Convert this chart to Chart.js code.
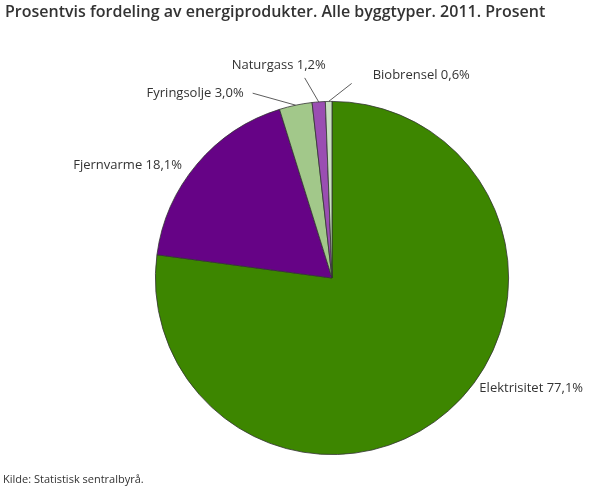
<!DOCTYPE html>
<html>
<head>
<meta charset="utf-8">
<script src="https://cdn.jsdelivr.net/npm/chart.js@4"></script>
<style>
  html, body { margin: 0; padding: 0; background: #fff; }
  #wrap { position: relative; width: 610px; height: 488px; }
  #title { position: absolute; left: 5px; top: 0px; font: 600 16px "Open Sans", sans-serif; color: #333; white-space: nowrap; line-height: 22px; }
  #source { position: absolute; left: 3px; top: 471px; font: 11px "Open Sans", sans-serif; color: #333; white-space: nowrap; line-height: 16px; }
</style>
</head>
<body>
<div id="wrap">
  <canvas id="pie" width="610" height="488"></canvas>
  <div id="title">Prosentvis fordeling av energiprodukter. Alle byggtyper. 2011. Prosent</div>
  <div id="source">Kilde: Statistisk sentralbyrå.</div>
</div>
<script>
const categories = ['Elektrisitet', 'Fjernvarme', 'Fyringsolje', 'Naturgass', 'Biobrensel'];
const shares = [77.1, 18.1, 3.0, 1.2, 0.6];
const colors = ['#3d8600', '#660386', '#a2c88a', '#9a4eb2', '#c9e0c0'];

// label placement relative to the slice's outer mid point
const labelOffsets = [
  {tx: 31, ty: -23, align: 'left'},
  {tx: -15, ty: 1, align: 'right'},
  {lx: -43, ly: -12, tx: -52, ty: -12, align: 'right'},
  {lx: -14, ly: -24, tx: -40, ty: -37, align: 'center'},
  {lx: 23, ly: -18, tx: 44, ty: -26, align: 'left'}
];

const fmt = v => v.toFixed(1).replace('.', ',') + '%';

const pieLabels = {
  id: 'pieLabels',
  afterDatasetsDraw(chart) {
    const ctx = chart.ctx;
    const meta = chart.getDatasetMeta(0);
    ctx.save();
    ctx.font = '13px "Open Sans", sans-serif';
    ctx.fillStyle = '#333';
    ctx.strokeStyle = '#333';
    ctx.lineWidth = 0.8;
    ctx.textBaseline = 'middle';
    meta.data.forEach((arc, i) => {
      const p = arc.getProps(['x', 'y', 'startAngle', 'endAngle', 'outerRadius'], true);
      const mid = (p.startAngle + p.endAngle) / 2;
      const ex = p.x + Math.cos(mid) * p.outerRadius;
      const ey = p.y + Math.sin(mid) * p.outerRadius;
      const o = labelOffsets[i];
      if (o.lx !== undefined) {
        ctx.beginPath();
        ctx.moveTo(ex, ey);
        ctx.lineTo(ex + o.lx, ey + o.ly);
        ctx.stroke();
      }
      ctx.textAlign = o.align;
      ctx.fillText(categories[i] + ' ' + fmt(shares[i]), ex + o.tx, ey + o.ty);
    });
    ctx.restore();
  }
};

new Chart(document.getElementById('pie'), {
  type: 'pie',
  data: {
    labels: categories,
    datasets: [{
      data: shares,
      backgroundColor: colors,
      borderColor: '#333',
      borderWidth: 0.8
    }]
  },
  options: {
    responsive: false,
    animation: false,
    layout: { padding: { top: 101, bottom: 33, left: 155, right: 101 } },
    plugins: {
      legend: { display: false },
      tooltip: { enabled: false }
    }
  },
  plugins: [pieLabels]
});
</script>
</body>
</html>
